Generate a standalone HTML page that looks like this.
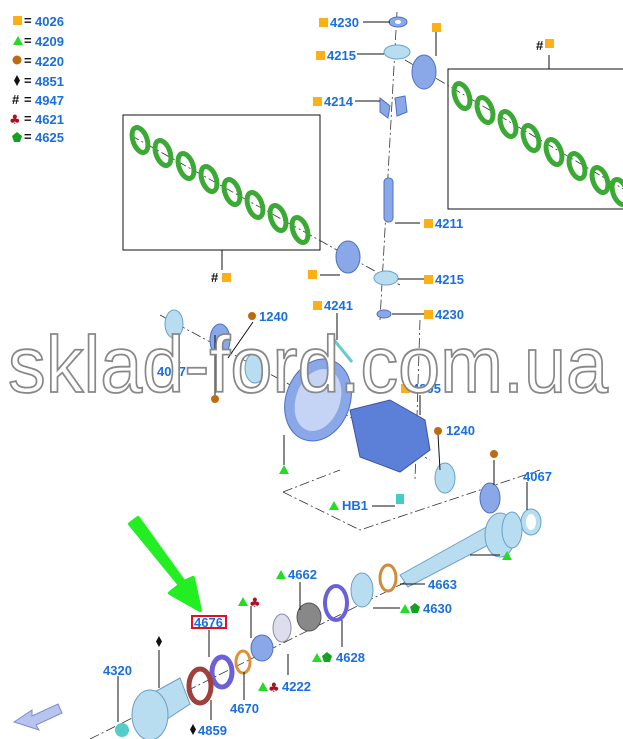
<!DOCTYPE html>
<html><head><meta charset="utf-8"><style>
html,body{margin:0;padding:0;background:#fff;}
svg{display:block}
.l{font-family:"Liberation Sans",sans-serif;font-weight:bold;font-size:13px;fill:#1a6fe0}
.k{font-family:"Liberation Sans",sans-serif;font-weight:bold;font-size:13px;fill:#111}
.ln{stroke:#111;stroke-width:1;fill:none}
.ax{stroke:#333;stroke-width:0.8;stroke-dasharray:10 3 2 3;fill:none}
.b{fill:#8aa8e8;stroke:#4d6fc4;stroke-width:1}
.lb{fill:#b8dcf0;stroke:#6aa0c8;stroke-width:1}
.wm{font-family:"Liberation Sans",sans-serif;font-size:80px;fill:#fff;stroke:#888;stroke-width:1.8}
</style></head><body>
<svg width="623" height="739" viewBox="0 0 623 739" xmlns="http://www.w3.org/2000/svg">
<defs>
<g id="sq"><rect x="0" y="-9" width="9" height="9" fill="#fbb016"/></g>
<g id="tr"><polygon points="0,0 10,0 5,-9" fill="#22dd22"/></g>
<g id="pt"><polygon points="5,-10 10,-6 8,0 2,0 0,-6" fill="#14a020"/></g>
<g id="cl"><text x="0" y="0" font-size="13" fill="#aa1122" font-family="DejaVu Sans">♣</text></g>
<g id="dm"><polygon points="4,-11 7,-5.5 4,0 1,-5.5" fill="#111"/></g>
<g id="ring"><ellipse cx="0" cy="0" rx="7" ry="13" fill="none" stroke="#3aaa35" stroke-width="5"/></g>
</defs>

<use href="#sq" x="13" y="25"/><text class="k" x="24" y="25">=</text><text class="l" x="35" y="26">4026</text>
<use href="#tr" x="13" y="45"/><text class="k" x="24" y="45">=</text><text class="l" x="35" y="46">4209</text>
<circle cx="17" cy="60" r="4.5" fill="#c06a10"/><text class="k" x="24" y="65">=</text><text class="l" x="35" y="66">4220</text>
<use href="#dm" x="13" y="86"/><text class="k" x="24" y="85">=</text><text class="l" x="35" y="86">4851</text>
<text class="k" x="12" y="104">#</text><text class="k" x="24" y="104">=</text><text class="l" x="35" y="105">4947</text>
<use href="#cl" x="9" y="124"/><text class="k" x="24" y="123">=</text><text class="l" x="35" y="124">4621</text>
<use href="#pt" x="12" y="142"/><text class="k" x="24" y="141">=</text><text class="l" x="35" y="142">4625</text>

<rect x="123" y="115" width="197" height="135" class="ln"/>
<rect x="448" y="69" width="180" height="140" class="ln"/>
<line x1="549" y1="55" x2="549" y2="69" class="ln"/>
<text class="k" x="536" y="50">#</text><use href="#sq" x="545" y="48"/>
<line x1="222" y1="250" x2="222" y2="270" class="ln"/>
<text class="k" x="211" y="282">#</text><use href="#sq" x="222" y="282"/>

<line x1="130" y1="135" x2="400" y2="285" class="ax"/>
<line x1="405" y1="60" x2="625" y2="190" class="ax"/>
<line x1="397" y1="12" x2="380" y2="320" class="ax"/>
<line x1="160" y1="315" x2="430" y2="460" class="ax"/>
<line x1="420" y1="320" x2="415" y2="480" class="ax"/>
<line x1="90" y1="739" x2="450" y2="560" class="ax"/>
<polyline points="283,492 360,530 540,470" class="ax"/>
<line x1="283" y1="492" x2="340" y2="470" class="ax"/>

<g transform="translate(140,140) rotate(-20)"><use href="#ring"/></g>
<g transform="translate(163,153) rotate(-20)"><use href="#ring"/></g>
<g transform="translate(186,166) rotate(-20)"><use href="#ring"/></g>
<g transform="translate(209,179) rotate(-20)"><use href="#ring"/></g>
<g transform="translate(232,192) rotate(-20)"><use href="#ring"/></g>
<g transform="translate(255,205) rotate(-20)"><use href="#ring"/></g>
<g transform="translate(278,218) rotate(-20)"><use href="#ring"/></g>
<g transform="translate(300,230) rotate(-20)"><use href="#ring"/></g>
<g transform="translate(462,96) rotate(-20)"><use href="#ring"/></g>
<g transform="translate(485,110) rotate(-20)"><use href="#ring"/></g>
<g transform="translate(508,124) rotate(-20)"><use href="#ring"/></g>
<g transform="translate(531,138) rotate(-20)"><use href="#ring"/></g>
<g transform="translate(554,152) rotate(-20)"><use href="#ring"/></g>
<g transform="translate(577,166) rotate(-20)"><use href="#ring"/></g>
<g transform="translate(600,180) rotate(-20)"><use href="#ring"/></g>
<g transform="translate(620,192) rotate(-20)"><use href="#ring"/></g>

<ellipse cx="398" cy="22" rx="9" ry="5" class="b"/><ellipse cx="398" cy="22" rx="3" ry="2" fill="#fff"/>
<ellipse cx="397" cy="52" rx="13" ry="7" class="lb"/>
<ellipse cx="424" cy="72" rx="12" ry="17" class="b"/>
<path d="M380,98 l10,8 l-2,12 l-8,-6z M395,98 l10,-2 l2,16 l-10,4z" class="b"/>
<rect x="384" y="178" width="9" height="44" rx="4" class="b"/>
<ellipse cx="348" cy="257" rx="12" ry="16" class="b"/>
<ellipse cx="386" cy="278" rx="12" ry="7" class="lb"/>
<ellipse cx="384" cy="314" rx="7" ry="4" class="b"/>

<ellipse cx="174" cy="324" rx="9" ry="14" class="lb"/>
<ellipse cx="220" cy="340" rx="10" ry="16" class="b"/>
<ellipse cx="255" cy="368" rx="10" ry="15" class="lb"/>
<ellipse cx="318" cy="400" rx="32" ry="42" transform="rotate(20 318 400)" class="b"/>
<ellipse cx="318" cy="400" rx="22" ry="32" transform="rotate(20 318 400)" fill="#fff" opacity=".5"/>
<line x1="330" y1="335" x2="352" y2="362" stroke="#6cc" stroke-width="3"/>
<path d="M350,410 l40,-10 l35,20 l5,30 l-30,22 l-40,-15z" fill="#5c7fd8" stroke="#3a55a8"/>
<ellipse cx="445" cy="478" rx="10" ry="15" class="lb"/>
<ellipse cx="490" cy="498" rx="10" ry="15" class="b"/>
<ellipse cx="531" cy="522" rx="10" ry="13" class="lb"/><ellipse cx="531" cy="522" rx="5" ry="8" fill="#fff"/>
<rect x="396" y="494" width="8" height="10" fill="#4cc"/>

<path d="M400,575 l90,-50 l10,14 l-92,48z" class="lb"/>
<ellipse cx="500" cy="535" rx="15" ry="22" class="lb"/>
<ellipse cx="512" cy="530" rx="10" ry="18" class="lb"/>
<ellipse cx="388" cy="578" rx="8" ry="13" fill="none" stroke="#d08a3a" stroke-width="3"/>
<ellipse cx="362" cy="590" rx="11" ry="17" class="lb"/>
<ellipse cx="336" cy="603" rx="11" ry="17" fill="none" stroke="#6a60d8" stroke-width="4"/>
<ellipse cx="309" cy="617" rx="12" ry="14" fill="#888" stroke="#555"/>
<ellipse cx="282" cy="628" rx="9" ry="14" fill="#dde" stroke="#88a"/>
<ellipse cx="262" cy="648" rx="11" ry="13" class="b"/>
<ellipse cx="243" cy="662" rx="7" ry="11" fill="none" stroke="#e0903a" stroke-width="3"/>
<ellipse cx="222" cy="672" rx="10" ry="15" fill="none" stroke="#6a60d8" stroke-width="5"/>
<ellipse cx="200" cy="686" rx="11" ry="17" fill="none" stroke="#a0403a" stroke-width="5"/>
<path d="M140,700 l40,-22 l10,26 l-38,25z" class="lb"/>
<ellipse cx="150" cy="715" rx="18" ry="25" class="lb"/>
<circle cx="122" cy="730" r="7" fill="#5cc"/>

<path d="M130,524 L180,585 L170,593 L200,610 L193,578 L184,582 L138,518z" fill="#22ee22" stroke="#22ee22" stroke-width="4" stroke-linejoin="round"/>
<path d="M14,722 l18,-12 l0,6 l26,-12 l4,9 l-26,12 l3,5z" fill="#b8c4f0" stroke="#7a8ad0"/>

<g class="ln">
<line x1="363" y1="22" x2="390" y2="22"/><line x1="357" y1="54" x2="384" y2="54"/>
<line x1="436" y1="28" x2="436" y2="56"/>
<line x1="355" y1="101" x2="380" y2="101"/><line x1="395" y1="223" x2="420" y2="223"/>
<line x1="398" y1="279" x2="428" y2="279"/><line x1="320" y1="275" x2="340" y2="275"/>
<line x1="392" y1="314" x2="428" y2="314"/><line x1="337" y1="313" x2="337" y2="340"/>
<line x1="253" y1="322" x2="228" y2="358"/><line x1="180" y1="363" x2="174" y2="340"/>
<line x1="420" y1="395" x2="420" y2="415"/>
<line x1="284" y1="465" x2="284" y2="435"/><line x1="438" y1="434" x2="440" y2="470"/>
<line x1="494" y1="460" x2="494" y2="485"/><line x1="527" y1="482" x2="527" y2="510"/>
<line x1="372" y1="506" x2="395" y2="506"/><line x1="470" y1="555" x2="500" y2="555"/>
<line x1="300" y1="582" x2="300" y2="610"/><line x1="400" y1="584" x2="425" y2="584"/>
<line x1="373" y1="608" x2="400" y2="608"/><line x1="342" y1="620" x2="342" y2="647"/>
<line x1="251" y1="606" x2="251" y2="638"/><line x1="288" y1="654" x2="288" y2="675"/>
<line x1="244" y1="672" x2="244" y2="700"/><line x1="209" y1="630" x2="209" y2="657"/>
<line x1="211" y1="700" x2="211" y2="720"/><line x1="159" y1="650" x2="159" y2="688"/>
<line x1="118" y1="676" x2="118" y2="722"/><line x1="215" y1="335" x2="215" y2="395"/>
</g>

<use href="#sq" x="319" y="27"/><text class="l" x="330" y="27">4230</text>
<use href="#sq" x="316" y="60"/><text class="l" x="327" y="60">4215</text>
<use href="#sq" x="432" y="32"/>
<use href="#sq" x="313" y="106"/><text class="l" x="324" y="106">4214</text>
<use href="#sq" x="424" y="228"/><text class="l" x="435" y="228">4211</text>
<use href="#sq" x="308" y="279"/>
<use href="#sq" x="424" y="284"/><text class="l" x="435" y="284">4215</text>
<use href="#sq" x="313" y="310"/><text class="l" x="324" y="310">4241</text>
<use href="#sq" x="424" y="319"/><text class="l" x="435" y="319">4230</text>
<circle cx="252" cy="316" r="4" fill="#c06a10"/><text class="l" x="259" y="321">1240</text>
<text class="l" x="157" y="376">4067</text>
<circle cx="215" cy="399" r="4" fill="#c06a10"/>
<use href="#sq" x="401" y="393"/><text class="l" x="412" y="393">4205</text>
<circle cx="438" cy="431" r="4" fill="#c06a10"/><text class="l" x="446" y="435">1240</text>
<circle cx="494" cy="454" r="4" fill="#c06a10"/>
<use href="#tr" x="279" y="474"/>
<text class="l" x="523" y="481">4067</text>
<use href="#tr" x="329" y="510"/><text class="l" x="342" y="510">HB1</text>
<use href="#tr" x="502" y="560"/>
<use href="#tr" x="276" y="579"/><text class="l" x="288" y="579">4662</text>
<text class="l" x="428" y="589">4663</text>
<use href="#tr" x="400" y="613"/><use href="#pt" x="410" y="613"/><text class="l" x="423" y="613">4630</text>
<use href="#tr" x="238" y="606"/><use href="#cl" x="249" y="607"/>
<rect x="192" y="616" width="34" height="12" fill="none" stroke="#e01020" stroke-width="2"/>
<text class="l" x="194" y="627">4676</text>
<use href="#tr" x="312" y="662"/><use href="#pt" x="322" y="662"/><text class="l" x="336" y="662">4628</text>
<use href="#dm" x="155" y="647"/>
<text class="l" x="103" y="675">4320</text>
<use href="#tr" x="258" y="691"/><use href="#cl" x="268" y="692"/><text class="l" x="282" y="691">4222</text>
<text class="l" x="230" y="713">4670</text>
<use href="#dm" x="189" y="735"/><text class="l" x="198" y="735">4859</text>

<text class="wm" x="8" y="392" textLength="600" lengthAdjust="spacingAndGlyphs">sklad-ford.com.ua</text>
</svg>
</body></html>
